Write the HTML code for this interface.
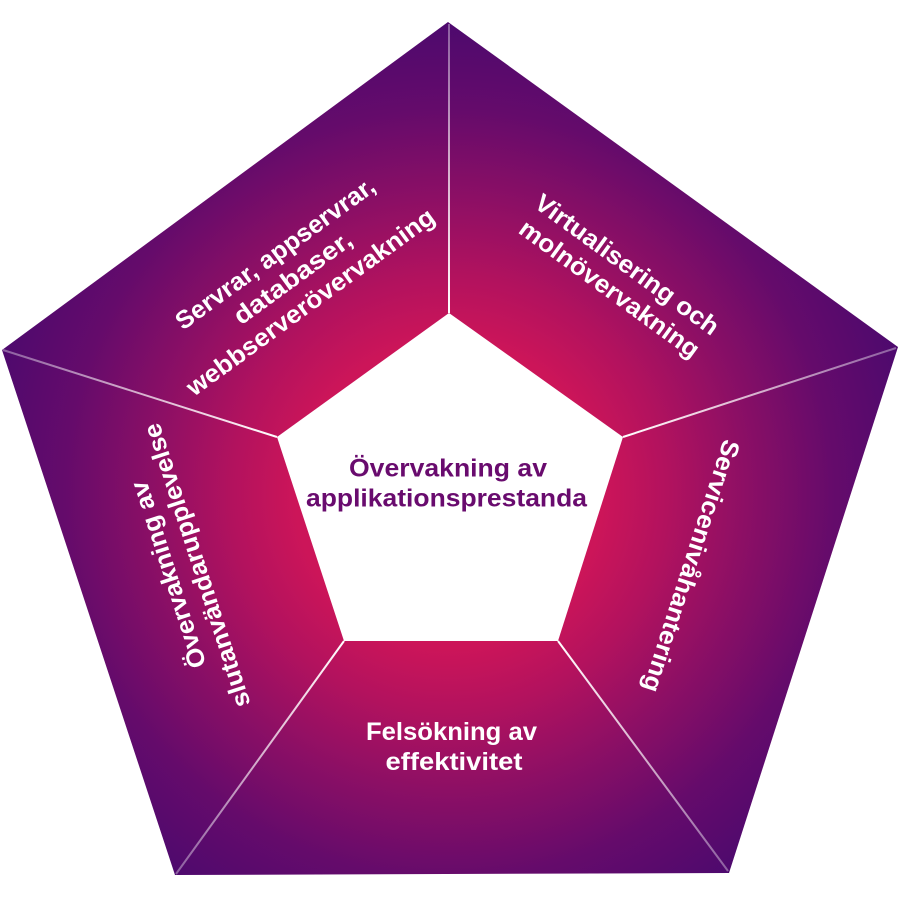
<!DOCTYPE html>
<html>
<head>
<meta charset="utf-8">
<style>
  html, body { margin: 0; padding: 0; background: #ffffff; }
  svg { display: block; }
  text { font-family: "Liberation Sans", "DejaVu Sans", sans-serif; font-weight: bold; }
</style>
</head>
<body>
<svg width="900" height="900" viewBox="0 0 900 900" xmlns="http://www.w3.org/2000/svg">
  <defs>
    <radialGradient id="bg" gradientUnits="userSpaceOnUse" cx="449" cy="494" r="480">
      <stop offset="0" stop-color="#d0155a"/>
      <stop offset="0.32" stop-color="#cc1559"/>
      <stop offset="0.45" stop-color="#b3125e"/>
      <stop offset="0.62" stop-color="#8c0f65"/>
      <stop offset="0.8" stop-color="#650b6b"/>
      <stop offset="1" stop-color="#4b096e"/>
    </radialGradient>
    <linearGradient id="l1" gradientUnits="userSpaceOnUse" x1="449" y1="313" x2="449" y2="24">
      <stop offset="0" stop-color="#fff" stop-opacity="1"/>
      <stop offset="1" stop-color="#fff" stop-opacity="0.35"/>
    </linearGradient>
    <linearGradient id="l2" gradientUnits="userSpaceOnUse" x1="623" y1="437" x2="896" y2="348">
      <stop offset="0" stop-color="#fff" stop-opacity="1"/>
      <stop offset="1" stop-color="#fff" stop-opacity="0.35"/>
    </linearGradient>
    <linearGradient id="l3" gradientUnits="userSpaceOnUse" x1="558" y1="641" x2="728" y2="871">
      <stop offset="0" stop-color="#fff" stop-opacity="1"/>
      <stop offset="1" stop-color="#fff" stop-opacity="0.35"/>
    </linearGradient>
    <linearGradient id="l4" gradientUnits="userSpaceOnUse" x1="344" y1="641" x2="176" y2="874">
      <stop offset="0" stop-color="#fff" stop-opacity="1"/>
      <stop offset="1" stop-color="#fff" stop-opacity="0.35"/>
    </linearGradient>
    <linearGradient id="l5" gradientUnits="userSpaceOnUse" x1="277" y1="437" x2="3" y2="350">
      <stop offset="0" stop-color="#fff" stop-opacity="1"/>
      <stop offset="1" stop-color="#fff" stop-opacity="0.35"/>
    </linearGradient>
  </defs>

  <!-- outer pentagon -->
  <polygon points="448,22 898,347 729,873 175,875 2,350" fill="url(#bg)"/>

  <!-- dividers -->
  <line x1="449" y1="313" x2="449" y2="24" stroke="url(#l1)" stroke-width="2"/>
  <line x1="623" y1="437" x2="896" y2="348" stroke="url(#l2)" stroke-width="2"/>
  <line x1="558" y1="641" x2="728" y2="871" stroke="url(#l3)" stroke-width="2"/>
  <line x1="344" y1="641" x2="176" y2="874" stroke="url(#l4)" stroke-width="2"/>
  <line x1="277" y1="437" x2="3" y2="350" stroke="url(#l5)" stroke-width="2"/>

  <!-- inner pentagon -->
  <polygon points="449,313 623,437 558,641 344,641 277,437" fill="#ffffff"/>

  <!-- center text -->
  <g fill="#690b6e" font-size="25" text-anchor="middle">
    <text x="448" y="476.5" textLength="198" lengthAdjust="spacingAndGlyphs">Övervakning av</text>
    <text x="446.5" y="506.5" textLength="281" lengthAdjust="spacingAndGlyphs">applikationsprestanda</text>
  </g>

  <!-- top-left segment -->
  <g fill="#ffffff" font-size="25" text-anchor="middle" transform="translate(293,278) rotate(-36)">
    <text x="0" y="-22" textLength="240" lengthAdjust="spacingAndGlyphs">Servrar, appservrar,</text>
    <text x="0" y="8" textLength="140" lengthAdjust="spacingAndGlyphs">databaser,</text>
    <text x="0" y="38" textLength="300" lengthAdjust="spacingAndGlyphs">webbserverövervakning</text>
  </g>

  <!-- top-right segment -->
  <g fill="#ffffff" font-size="25" text-anchor="middle" transform="translate(618,277) rotate(36)">
    <text x="0" y="-7" textLength="221" lengthAdjust="spacingAndGlyphs">Virtualisering och</text>
    <text x="0" y="23" textLength="216" lengthAdjust="spacingAndGlyphs">molnövervakning</text>
  </g>

  <!-- right segment -->
  <g fill="#ffffff" font-size="25" text-anchor="middle" transform="translate(691,566) rotate(108)">
    <text x="0" y="8" textLength="264" lengthAdjust="spacingAndGlyphs">Servicenivåhantering</text>
  </g>

  <!-- left segment -->
  <g fill="#ffffff" font-size="25" text-anchor="middle" transform="translate(183,570) rotate(-108)">
    <text x="0" y="-7" textLength="195" lengthAdjust="spacingAndGlyphs">Övervakning av</text>
    <text x="0" y="23" textLength="297" lengthAdjust="spacingAndGlyphs">slutanvändarupplevelse</text>
  </g>

  <!-- bottom segment -->
  <g fill="#ffffff" font-size="25" text-anchor="middle">
    <text x="451.5" y="740" textLength="171" lengthAdjust="spacingAndGlyphs">Felsökning av</text>
    <text x="454" y="770" textLength="137" lengthAdjust="spacingAndGlyphs">effektivitet</text>
  </g>
</svg>
</body>
</html>
